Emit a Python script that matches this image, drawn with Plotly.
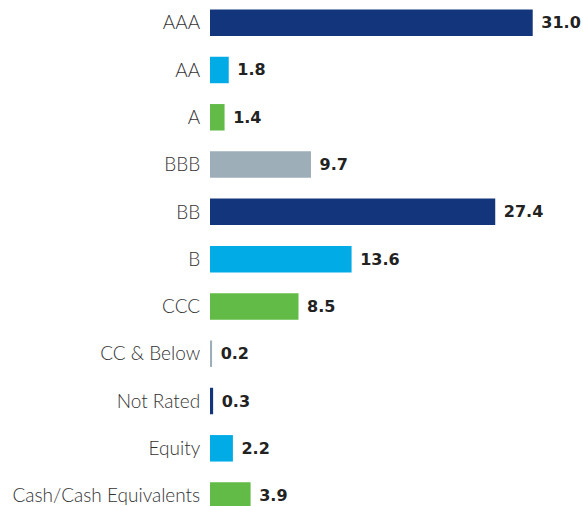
import plotly.graph_objects as go

categories = ["AAA", "AA", "A", "BBB", "BB", "B", "CCC", "CC & Below",
              "Not Rated", "Equity", "Cash/Cash Equivalents"]
values = [31.0, 1.8, 1.4, 9.7, 27.4, 13.6, 8.5, 0.2, 0.3, 2.2, 3.9]
colors = ["#12357b", "#00abe6", "#61bb46", "#9eaeb8", "#12357b", "#00abe6",
          "#61bb46", "#9eaeb8", "#12357b", "#00abe6", "#61bb46"]

fig = go.Figure(go.Bar(
    y=categories, x=values, orientation="h",
    marker=dict(color=colors, line=dict(width=0)),
    width=0.56,
    texttemplate="\u00a0%{x:.1f}",
    textposition="outside",
    cliponaxis=False,
    textfont=dict(family="DejaVu Sans, sans-serif", size=16, color="#222222", weight="bold"),
    hoverinfo="skip",
))

fig.update_layout(
    width=583, height=506,
    margin=dict(l=210, r=0, t=0, b=0),
    paper_bgcolor="white", plot_bgcolor="white",
    showlegend=False,
    font=dict(family="Lato, Noto Sans, sans-serif"),
    xaxis=dict(range=[0, 35.83], visible=False, showgrid=False, zeroline=False),
    yaxis=dict(
        type="category",
        categoryorder="array", categoryarray=categories,
        range=[10.22, -0.48],
        showgrid=False, zeroline=False, showline=False,
        ticks="outside", ticklen=5, tickcolor="rgba(0,0,0,0)",
        tickfont=dict(family="Lato, Noto Sans, sans-serif", size=19, color="#333333", weight=300),
        automargin=False,
    ),
)

fig.write_html("out.html", config={"displayModeBar": False},
               post_script="document.body.style.margin='0';document.body.style.overflow='hidden';")
